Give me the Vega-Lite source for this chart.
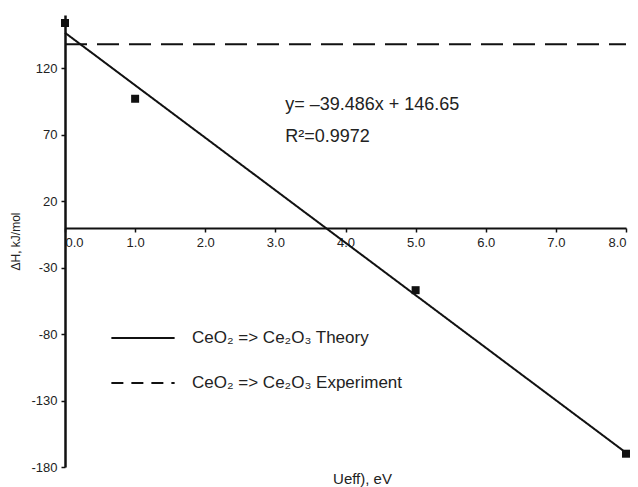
{
  "$schema": "https://vega.github.io/schema/vega-lite/v6.json",
  "width": 561,
  "height": 452,
  "autosize": {"type": "none"},
  "padding": {"left": 65, "top": 15, "right": 12, "bottom": 20},
  "background": "white",
  "config": {
    "font": "Liberation Sans",
    "view": {"stroke": null},
    "axis": {"grid": false, "domainColor": "#111", "domainWidth": 2, "tickColor": "#111", "tickWidth": 1.5, "tickSize": 4, "labelColor": "#222", "labelFontSize": 13, "titleColor": "#222", "titleFontWeight": "normal"}
  },
  "datasets": {
    "lines": [
      {"x": 0, "y": 146.65, "series": "CeO₂ => Ce₂O₃ Theory"},
      {"x": 8, "y": -169.24, "series": "CeO₂ => Ce₂O₃ Theory"},
      {"x": 0, "y": 138, "series": "CeO₂ => Ce₂O₃ Experiment"},
      {"x": 8, "y": 138, "series": "CeO₂ => Ce₂O₃ Experiment"}
    ],
    "points": [
      {"x": 0, "y": 154},
      {"x": 1, "y": 97},
      {"x": 5, "y": -47},
      {"x": 8, "y": -170}
    ],
    "labels": [
      {"x": 3.14, "y": 92, "text": "y= –39.486x + 146.65"},
      {"x": 3.14, "y": 68, "text": "R²=0.9972"}
    ]
  },
  "layer": [
    {
      "data": {"name": "lines"},
      "mark": {"type": "line", "color": "#111", "strokeWidth": 2},
      "encoding": {
        "x": {"field": "x", "type": "quantitative", "scale": {"domain": [0, 8], "nice": false, "zero": false},
          "axis": {"values": [0,1,2,3,4,5,6,7,8], "format": ".1f", "offset": -239, "title": "Ueff), eV", "titleFontSize": 15, "titleX": 297, "titleY": 250, "titleAlign": "center", "titleBaseline": "middle", "labelPadding": 4}},
        "y": {"field": "y", "type": "quantitative", "scale": {"domain": [-180, 160], "nice": false, "zero": false},
          "axis": {"values": [-180,-130,-80,-30,20,70,120], "labelExpr": "'' + datum.value", "domainWidth": 2.5, "title": "ΔH, kJ/mol", "titleFontSize": 12, "titleAngle": -90, "titleX": -50, "titleY": 226, "titleAlign": "center", "titleBaseline": "middle", "labelPadding": 4}},
        "strokeDash": {"field": "series", "type": "nominal",
          "scale": {"domain": ["CeO₂ => Ce₂O₃ Theory", "CeO₂ => Ce₂O₃ Experiment"], "range": [[1, 0], [12, 8]]},
          "legend": {"title": null, "orient": "none", "legendX": 45, "legendY": 290, "symbolType": "stroke", "symbolSize": 4000, "symbolStrokeWidth": 2, "symbolStrokeColor": "#111", "labelFontSize": 17, "labelColor": "#222", "labelOffset": 16, "labelLimit": 0, "rowPadding": 4}},
        "strokeOpacity": {"condition": {"test": "datum.series === 'CeO₂ => Ce₂O₃ Experiment'", "value": 0}, "value": 1},
        "detail": {"field": "series"}
      }
    },
    {
      "data": {"name": "lines"},
      "transform": [{"filter": "datum.series === 'CeO₂ => Ce₂O₃ Experiment'"}],
      "mark": {"type": "line", "color": "#111", "strokeWidth": 2, "strokeDash": [22, 10]},
      "encoding": {
        "x": {"field": "x", "type": "quantitative"},
        "y": {"field": "y", "type": "quantitative"}
      }
    },
    {
      "data": {"name": "points"},
      "mark": {"type": "point", "shape": "square", "filled": true, "size": 64, "color": "#111", "opacity": 1},
      "encoding": {
        "x": {"field": "x", "type": "quantitative"},
        "y": {"field": "y", "type": "quantitative"}
      }
    },
    {
      "data": {"name": "labels"},
      "mark": {"type": "text", "align": "left", "baseline": "middle", "fontSize": 18, "color": "#222"},
      "encoding": {
        "x": {"field": "x", "type": "quantitative"},
        "y": {"field": "y", "type": "quantitative"},
        "text": {"field": "text"}
      }
    }
  ]
}
